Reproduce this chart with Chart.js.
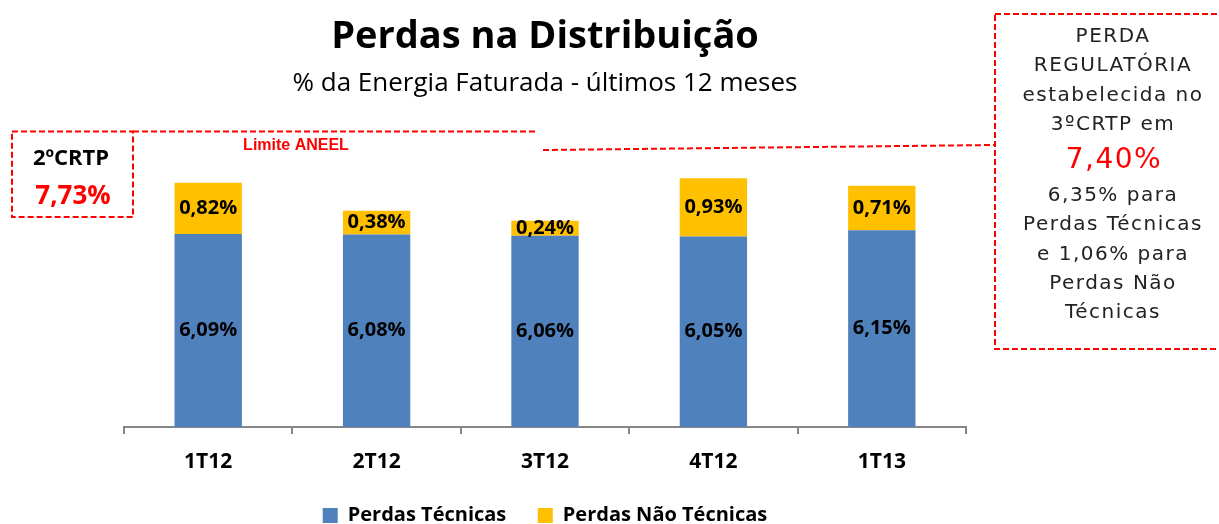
<!DOCTYPE html>
<html lang="pt-BR">
<head>
    <meta charset="UTF-8">
    <title>Perdas na Distribuição</title>
    <script src="https://cdn.jsdelivr.net/npm/chart.js"></script>
    <style>
        html, body {
            margin: 0;
            padding: 0;
            background: #fff;
            overflow: hidden;
        }
        .wrap {
            position: relative;
            width: 1219px;
            height: 540px;
        }
    </style>
</head>
<body>
    <div class="wrap"><canvas id="perdasChart"></canvas></div>

    <script>
        // data
        const categories = ['1T12', '2T12', '3T12', '4T12', '1T13'];
        const perdasTecnicas = [6.09, 6.08, 6.06, 6.05, 6.15];
        const perdasNaoTecnicas = [0.82, 0.38, 0.24, 0.93, 0.71];
        const limiteAneel = 7.73;
        const perdaRegulatoria = 7.40;
        const regulatoriaText = [
            'PERDA', 'REGULATÓRIA', 'estabelecida no', '3ºCRTP em',
            '7,40%',
            '6,35% para', 'Perdas Técnicas', 'e 1,06% para', 'Perdas Não', 'Técnicas'
        ];

        const RED = '#FF0000';
        const FONT = '"Open Sans"';
        const fmt = v => v.toFixed(2).replace('.', ',') + '%';

        function dashedLine(ctx, x1, y1, x2, y2) {
            ctx.beginPath();
            ctx.moveTo(x1, y1);
            ctx.lineTo(x2, y2);
            ctx.stroke();
        }

        // labels inside bars + the ANEEL boxes and lines
        const annotations = {
            id: 'annotations',
            afterDatasetsDraw(chart) {
                const ctx = chart.ctx;
                const bottom = chart.chartArea.bottom;
                ctx.save();
                ctx.font = 'bold 20px ' + FONT;
                ctx.fillStyle = '#000';
                ctx.textAlign = 'center';
                ctx.textBaseline = 'middle';
                chart.data.datasets.forEach((ds, i) => {
                    chart.getDatasetMeta(i).data.forEach((bar, j) => {
                        const base = Math.min(bar.base, bottom);
                        ctx.fillText(fmt(ds.data[j]), bar.x, (bar.y + base) / 2);
                    });
                });
                ctx.restore();
            },
            afterDraw(chart) {
                const ctx = chart.ctx;
                const yScale = chart.scales.y;
                const yLim = yScale.getPixelForValue(limiteAneel);
                const yReg = yScale.getPixelForValue(perdaRegulatoria);

                ctx.save();
                ctx.strokeStyle = RED;
                ctx.lineWidth = 2;
                ctx.setLineDash([6, 3]);

                // 2ºCRTP box and limit line
                ctx.strokeRect(12, yLim, 121, 217 - yLim);
                dashedLine(ctx, 133, yLim, 535, yLim);

                // line to the regulatory box
                dashedLine(ctx, 543, yReg - 2, 995, yReg - 7);
                ctx.strokeRect(995, 14, 240, 335);
                ctx.setLineDash([]);

                ctx.textAlign = 'center';
                ctx.textBaseline = 'middle';
                ctx.fillStyle = '#000';
                ctx.font = 'bold 22px ' + FONT;
                ctx.fillText('2ºCRTP', 71, 159);
                ctx.fillStyle = RED;
                ctx.font = 'bold 26px ' + FONT;
                ctx.fillText(fmt(limiteAneel), 73, 197);

                ctx.font = 'bold 16px "Liberation Sans"';
                ctx.fillText('Limite ANEEL', 296, 146);

                // regulatory loss text
                ctx.letterSpacing = '1.5px';
                let y = 37;
                regulatoriaText.forEach(line => {
                    if (line === '7,40%') {
                        ctx.font = '28px "DejaVu Sans"';
                        ctx.fillStyle = RED;
                        ctx.fillText(line, 1114, 161);
                        y = 196;
                        return;
                    }
                    ctx.font = '20px "DejaVu Sans"';
                    ctx.fillStyle = '#222';
                    ctx.fillText(line, 1113, y);
                    y += 29.2;
                });
                ctx.restore();
            }
        };

        const ctx = document.getElementById('perdasChart').getContext('2d');
        const chart = new Chart(ctx, {
            type: 'bar',
            data: {
                labels: categories,
                datasets: [
                    {
                        label: 'Perdas Técnicas',
                        data: perdasTecnicas,
                        backgroundColor: '#4F81BD',
                        barPercentage: 0.4,
                        categoryPercentage: 1
                    },
                    {
                        label: 'Perdas Não Técnicas',
                        data: perdasNaoTecnicas,
                        backgroundColor: '#FFC000',
                        barPercentage: 0.4,
                        categoryPercentage: 1
                    }
                ]
            },
            options: {
                responsive: true,
                maintainAspectRatio: false,
                animation: false,
                layout: {
                    padding: { top: 0, left: 124, right: 253, bottom: 4.5 }
                },
                plugins: {
                    title: {
                        display: true,
                        text: 'Perdas na Distribuição',
                        color: '#000',
                        font: { family: 'Open Sans', size: 38, weight: 'bold', lineHeight: 1.2 },
                        padding: { top: 14, bottom: 8.6 }
                    },
                    subtitle: {
                        display: true,
                        text: '% da Energia Faturada - últimos 12 meses',
                        color: '#000',
                        font: { family: 'Open Sans', size: 26, lineHeight: 1.2 },
                        padding: { top: 0, bottom: 15.1 }
                    },
                    legend: {
                        position: 'bottom',
                        labels: {
                            color: '#000',
                            font: { family: 'Open Sans', size: 20, weight: 'bold' },
                            boxWidth: 15,
                            boxHeight: 15,
                            padding: 31.5
                        }
                    },
                    tooltip: { enabled: false }
                },
                scales: {
                    x: {
                        stacked: true,
                        grid: {
                            display: true,
                            drawOnChartArea: false,
                            drawTicks: true,
                            tickLength: 7,
                            color: '#868686',
                            lineWidth: 2
                        },
                        border: { display: true, color: '#868686', width: 2 },
                        ticks: {
                            color: '#000',
                            font: { family: 'Open Sans', size: 21, weight: 'bold', lineHeight: 1 },
                            padding: 17.2
                        },
                        afterFit: scale => { scale.height = 47; }
                    },
                    y: {
                        stacked: true,
                        display: false,
                        min: 3,
                        max: 8
                    }
                }
            },
            plugins: [annotations]
        });
    </script>
</body>
</html>
